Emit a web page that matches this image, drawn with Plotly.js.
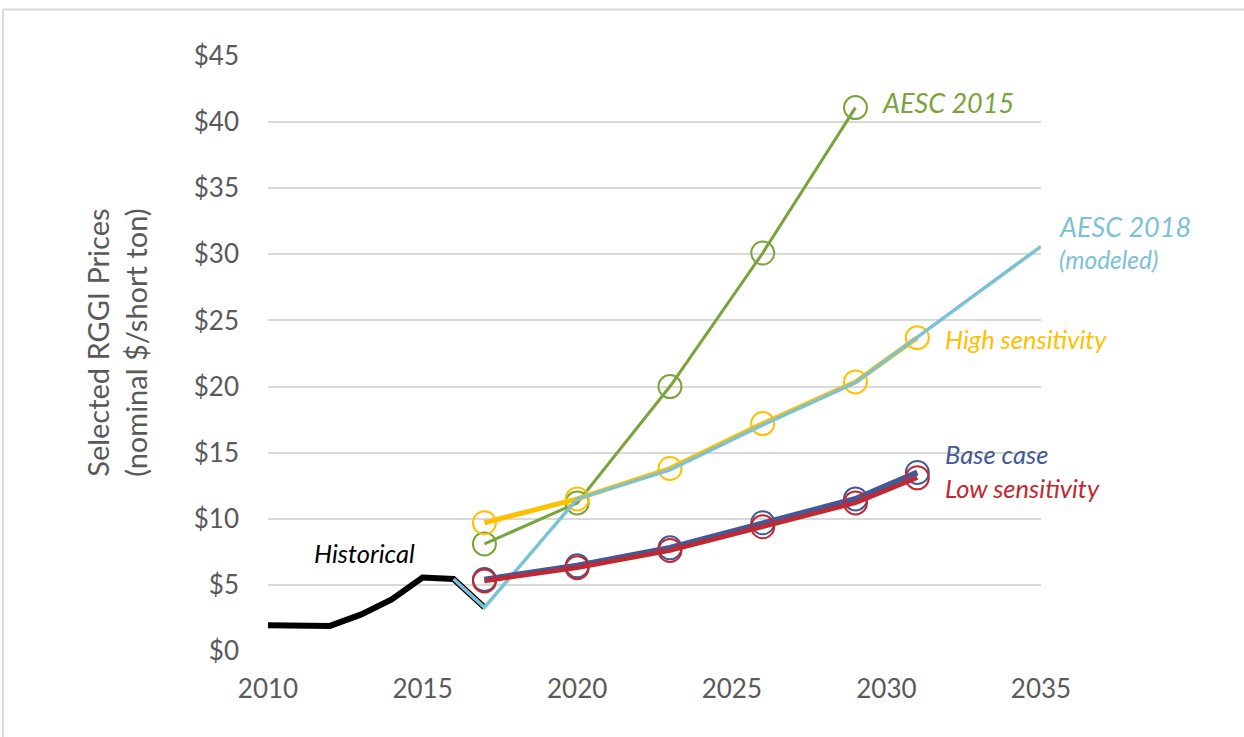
<!DOCTYPE html>
<html>
<head>
<meta charset="utf-8">
<script src="https://cdn.plot.ly/plotly-3.0.1.min.js"></script>
<style>
html,body{margin:0;padding:0;background:#fff;}
#chart{width:1244px;height:737px;}
</style>
</head>
<body>
<div id="chart"></div>
<script>
// ---- data ----
const histYears = [2010, 2011, 2012, 2013, 2014, 2015, 2016, 2017];
const histValues = [1.95, 1.9, 1.9, 2.75, 3.9, 5.55, 5.45, 3.3];

const aesc2018Years = [2016, 2017, 2020, 2023, 2026, 2029, 2035];
const aesc2018Values = [5.45, 3.3, 11.5, 13.7, 17.1, 20.3, 30.6];

const aesc2015Years = [2017, 2020, 2023, 2026, 2029];
const aesc2015Values = [8.1, 11.2, 20.0, 30.1, 41.1];

const scenarioYears = [2017, 2020, 2023, 2026, 2029, 2031];
const highValues = [9.7, 11.5, 13.8, 17.2, 20.35, 23.7];
const baseValues = [5.4, 6.45, 7.8, 9.7, 11.5, 13.5];
const lowValues = [5.3, 6.3, 7.6, 9.4, 11.2, 13.1];

const xTicks = [2010, 2015, 2020, 2025, 2030, 2035];
const yTicks = [0, 5, 10, 15, 20, 25, 30, 35, 40, 45];
const yTickLabels = ['$0', '$5', '$10', '$15', '$20', '$25', '$30', '$35', '$40', '$45'];

// ---- colours ----
const cBlack = '#000000';
const cGreen = '#78a43a';
const cCyan = '#7cc2d4';
const cYellow = '#ffc000';
const cBlue = '#455896';
const cRed = '#c3272f';
const cAxis = '#595959';
const cGrid = '#d9d9d9';

const FONT = 'Lato, "Open Sans", sans-serif';
const MS = 23;

const traces = [
  {x: histYears, y: histValues, mode: 'lines', line: {color: cBlack, width: 6}, name: 'Historical'},
  {x: aesc2015Years, y: aesc2015Values, mode: 'lines+markers', name: 'AESC 2015',
   line: {color: cGreen, width: 3},
   marker: {symbol: 'circle-open', size: MS, color: cGreen, line: {width: 2, color: cGreen}}},
  {x: scenarioYears, y: highValues, mode: 'lines+markers', name: 'High sensitivity',
   line: {color: cYellow, width: 5},
   marker: {symbol: 'circle-open', size: MS, color: cYellow, line: {width: 2, color: cYellow}}},
  {x: aesc2018Years, y: aesc2018Values, mode: 'lines', name: 'AESC 2018',
   line: {color: cCyan, width: 3.5}},
  {x: scenarioYears, y: baseValues, mode: 'lines+markers', name: 'Base case',
   line: {color: cBlue, width: 6},
   marker: {symbol: 'circle-open', size: MS, color: cBlue, line: {width: 2, color: cBlue}}},
  {x: scenarioYears, y: lowValues, mode: 'lines+markers', name: 'Low sensitivity',
   line: {color: cRed, width: 4.5},
   marker: {symbol: 'circle-open', size: MS, color: cRed, line: {width: 2, color: cRed}}}
];
traces.forEach(t => { t.cliponaxis = false; t.hoverinfo = 'skip'; });

function label(text, x, y, color, size) {
  return {text: text, x: x, y: y, xref: 'x', yref: 'y', xanchor: 'left', yanchor: 'middle',
          showarrow: false, font: {family: FONT, size: size || 25.5, color: color}};
}
function plabel(text, x, y, color, size) {
  return {text: text, x: x, y: y, xref: 'paper', yref: 'paper', xanchor: 'left', yanchor: 'middle',
          showarrow: false, font: {family: FONT, size: size || 25.5, color: color}};
}

const layout = {
  width: 1244, height: 737,
  margin: {l: 268, r: 203, t: 56, b: 86},
  paper_bgcolor: '#ffffff', plot_bgcolor: '#ffffff',
  showlegend: false,
  font: {family: FONT, color: cAxis},
  xaxis: {
    range: [2010, 2035], tickvals: xTicks, ticktext: xTicks.map(String),
    showgrid: false, zeroline: false, showline: false, ticks: '',
    tickfont: {family: FONT, size: 26, color: cAxis}, ticklabelstandoff: 20
  },
  yaxis: {
    range: [0, 45], tickvals: yTicks, ticktext: yTickLabels,
    showgrid: true, gridcolor: cGrid, gridwidth: 2, zeroline: false, showline: false, ticks: '',
    tickfont: {family: FONT, size: 26, color: cAxis}, ticklabelstandoff: 28
  },
  annotations: [
    {text: 'Selected RGGI Prices<br>(nominal $/short ton)', xref: 'paper', yref: 'paper',
     x: -0.1953, y: 0.518, xanchor: 'center', yanchor: 'middle', textangle: -90, showarrow: false,
     font: {family: FONT, size: 29, color: cAxis}},
    {text: '<i>Historical</i>', x: 2011.42, y: 7.4, xref: 'x', yref: 'y', xanchor: 'left', yanchor: 'middle',
     showarrow: false, font: {family: FONT, size: 25.5, color: cBlack}},
    label('<i>AESC 2015</i>', 2029.8, 41.45, cGreen, 27),
    plabel('<i>AESC 2018</i>', 1.0207, 0.7133, cCyan, 27),
    plabel('<i>(modeled)</i>', 1.021, 0.6578, cCyan, 24.5),
    label('<i>High sensitivity</i>', 2031.83, 23.6, cYellow),
    label('<i>Base case</i>', 2031.83, 14.9, cBlue),
    label('<i>Low sensitivity</i>', 2031.83, 12.35, cRed)
  ],
  shapes: [
    {type: 'line', xref: 'paper', yref: 'paper', x0: -0.343, x1: 1.4, y0: 1.078, y1: 1.078,
     line: {color: cGrid, width: 2}},
    {type: 'line', xref: 'paper', yref: 'paper', x0: -0.343, x1: -0.343, y0: -0.2, y1: 1.078,
     line: {color: cGrid, width: 2}}
  ]
};

Plotly.newPlot('chart', traces, layout, {staticPlot: true, displayModeBar: false});
</script>
</body>
</html>
